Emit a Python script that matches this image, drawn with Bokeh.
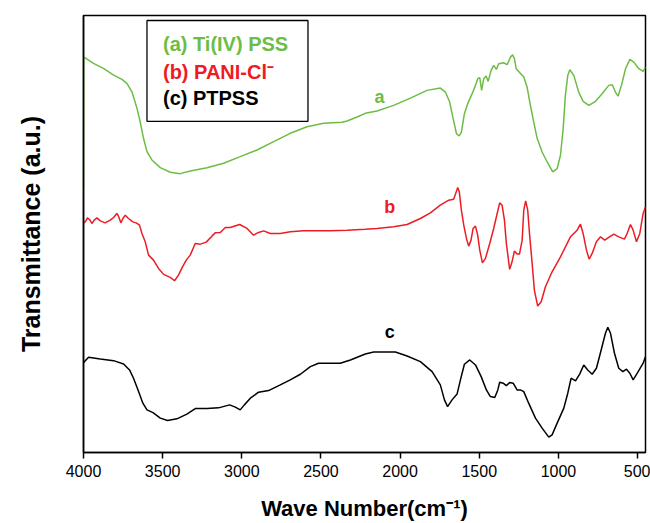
from bokeh.plotting import figure
from bokeh.models import Range1d, FixedTicker, BoxAnnotation, Label
from bokeh.embed import file_html
from bokeh.resources import INLINE

FONT = "Liberation Sans"

# ---- data (wavenumber cm^-1, transmittance a.u.) ----
wn_a = [4000, 3999, 3937, 3874, 3810, 3757, 3726, 3694, 3662, 3642, 3621, 3599, 3568, 3515, 3452, 3389, 3326,
        3220, 3115, 3010, 2904, 2799, 2694, 2588, 2483, 2367, 2335, 2272, 2220, 2146, 2041, 1935, 1830, 1746,
        1714, 1687, 1665, 1644, 1627, 1613, 1594, 1573, 1545, 1524, 1510, 1497, 1485, 1472, 1457, 1444, 1425,
        1409, 1392, 1377, 1346, 1324, 1303, 1289, 1278, 1267, 1244, 1219, 1198, 1177, 1156, 1134, 1103, 1071,
        1036, 1008, 987, 970, 956, 941, 928, 903, 872, 844, 808, 766, 724, 682, 660, 640, 623, 602, 576, 549,
        524, 492, 465, 450]
t_a = [265, 396.3, 389.7, 384.7, 378, 373.7, 369.7, 361.3, 344.7, 331.3, 314.7, 301.3, 293, 285.3, 280.7, 279.3,
       282, 285.3, 289.7, 296.3, 303, 311.3, 319.7, 326.3, 329.7, 330.7, 332, 336, 339.7, 342, 347.7, 355, 362.7,
       365, 361, 351, 334.4, 319.4, 317, 321, 339.4, 349.4, 359.4, 367.7, 374.4, 375.4, 362.7, 374.4, 377, 371.7,
       382.7, 387.7, 383.7, 389.4, 390.4, 388.4, 396, 398.4, 394.4, 384.4, 380.4, 376, 366, 347.7, 331, 314.4,
       301, 291, 281, 284.4, 297.7, 324.4, 357.7, 377.7, 383.4, 377.7, 361, 351.7, 347.7, 351.7, 359.4, 367.7,
       368.4, 361, 357, 367.7, 384.4, 393.7, 391, 384.4, 381.7, 386]

wn_b = [4000, 3989, 3975, 3962, 3947, 3932, 3915, 3894, 3863, 3831, 3810, 3789, 3779, 3764, 3751, 3736, 3716,
        3688, 3667, 3646, 3631, 3610, 3589, 3558, 3526, 3494, 3452, 3425, 3400, 3372, 3351, 3326, 3294, 3262,
        3225, 3189, 3168, 3136, 3104, 3073, 3014, 2967, 2926, 2894, 2862, 2820, 2757, 2694, 2610, 2546, 2441,
        2335, 2220, 2146, 2041, 1956, 1872, 1809, 1746, 1693, 1662, 1649, 1636, 1626, 1613, 1598, 1581, 1567,
        1552, 1539, 1524, 1510, 1497, 1480, 1461, 1434, 1409, 1387, 1371, 1356, 1341, 1329, 1308, 1293, 1278,
        1261, 1246, 1229, 1219, 1207, 1194, 1181, 1166, 1152, 1131, 1109, 1082, 1040, 987, 924, 882, 861, 844,
        823, 806, 787, 760, 734, 707, 682, 650, 619, 583, 566, 545, 528, 507, 486, 465, 450]
t_b = [229.7, 231, 235, 233.4, 229.4, 232.7, 235, 232, 230, 232.7, 235.4, 239.4, 236.7, 230, 234.4, 237.7, 234.4,
       231, 230, 227.7, 219.4, 211, 197.7, 192.7, 184.4, 178.4, 175.4, 172, 177.7, 186.7, 192.7, 197.7, 209.4,
       208.7, 210.7, 216.7, 220, 220.4, 225.4, 225.4, 228.4, 224.4, 217.7, 220.4, 222, 219.4, 219.4, 221, 222,
       222, 222, 222.7, 223.7, 224.4, 226, 228.4, 234.4, 240, 247.7, 252.7, 253.7, 259.4, 265.4, 261, 242.7,
       227.7, 214.4, 206.7, 212.7, 224.4, 226.7, 217.7, 202.7, 190, 194.4, 209.4, 224.4, 239.4, 250, 247.7,
       232.7, 209.4, 183.4, 191, 201.7, 198.7, 198.7, 212.7, 242.7, 252, 242.7, 216, 189.4, 162.7, 146.7, 151,
       166, 181, 196, 216, 222.7, 228.7, 219.4, 202.7, 193.7, 199.4, 211, 216, 212.7, 215.4, 218.7, 216, 213.7,
       219.4, 228.4, 222.7, 211, 219.4, 239.4, 246]

wn_c = [4000, 3968, 3894, 3810, 3747, 3709, 3684, 3652, 3625, 3599, 3561, 3515, 3469, 3410, 3347, 3294, 3220,
        3147, 3077, 3041, 3010, 2984, 2946, 2894, 2831, 2757, 2694, 2630, 2567, 2515, 2378, 2314, 2220, 2167,
        2030, 1956, 1872, 1798, 1746, 1720, 1700, 1672, 1640, 1619, 1594, 1560, 1524, 1488, 1455, 1430, 1402,
        1383, 1371, 1349, 1329, 1308, 1286, 1261, 1240, 1219, 1188, 1145, 1103, 1061, 1040, 1008, 966, 941, 920,
        892, 865, 840, 815, 787, 760, 730, 703, 688, 671, 646, 619, 593, 570, 549, 528, 502, 465, 450]
t_c = [90, 95.4, 93.7, 92, 88.7, 82.7, 74.4, 61, 49.4, 42.7, 40, 34.4, 32, 33.7, 38.4, 44, 44, 44.7, 47.7, 45.4,
       42.7, 47.7, 54.4, 60.4, 62, 67.7, 72.7, 78.4, 86, 89.4, 89.4, 92.7, 98.7, 100.7, 100.7, 96.7, 91, 81, 67.7,
       52.7, 46, 52.7, 58.7, 72.7, 88.4, 92.7, 87.7, 76, 62.7, 56, 55, 62.7, 70.4, 69.4, 67, 70, 69.4, 62.7, 62.7,
       61, 49.4, 34.4, 24.4, 15.4, 17.7, 29.4, 44.4, 59.4, 74.4, 71.7, 78.7, 87.7, 82.7, 78.4, 84.4, 102.7, 119.4,
       125.4, 119.4, 99.4, 84.4, 81, 83.4, 79.4, 72.7, 79.4, 89.4, 96]

x_ticks = [4000, 3500, 3000, 2500, 2000, 1500, 1000, 500]
series_names = ["(a) Ti(IV) PSS", "(b) PANI-Cl\u207b", "(c) PTPSS"]
curve_tags = ["a", "b", "c"]
colors = ["#6cbd45", "#ed1c24", "#000000"]

p = figure(width=650, height=523, output_backend="svg", toolbar_location=None,
           x_range=Range1d(4000, 450), y_range=Range1d(0, 437.7),
           min_border_left=83, min_border_right=5, min_border_top=15, min_border_bottom=70)
p.background_fill_color = "white"
p.border_fill_color = "white"
p.outline_line_color = "black"
p.outline_line_width = 1.5
p.xgrid.visible = False
p.ygrid.visible = False

p.line(wn_a, t_a, line_color=colors[0], line_width=1.5)
p.line(wn_b, t_b, line_color=colors[1], line_width=1.5)
p.line(wn_c, t_c, line_color=colors[2], line_width=1.5)

# x axis
xa = p.xaxis[0]
xa.ticker = FixedTicker(ticks=x_ticks)
xa.minor_tick_line_color = None
xa.major_tick_in = 0
xa.major_tick_out = 6
xa.major_tick_line_width = 1.5
xa.axis_line_width = 1.5
xa.axis_line_color = "black"
xa.major_label_text_font = FONT
xa.major_label_text_font_size = "16px"
xa.major_label_text_color = "black"
xa.major_label_standoff = 6
xa.axis_label = "Wave Number(cm\u207b\u00b9)"
xa.axis_label_text_font = FONT
xa.axis_label_text_font_style = "bold"
xa.axis_label_text_font_size = "22px"
xa.axis_label_text_color = "black"
xa.axis_label_standoff = 16

# y axis
ya = p.yaxis[0]
ya.ticker = FixedTicker(ticks=[])
ya.minor_tick_line_color = None
ya.major_tick_line_color = None
ya.axis_line_width = 1.5
ya.axis_line_color = "black"
ya.axis_label = "Transmittance (a.u.)"
ya.axis_label_text_font = FONT
ya.axis_label_text_font_style = "bold"
ya.axis_label_text_font_size = "25px"
ya.axis_label_text_color = "black"
ya.axis_label_standoff = 39

# curve tags
tag_pos = [(2131, 355.7), (2066, 246), (2066, 121)]
for tag, (tx, ty), c in zip(curve_tags, tag_pos, colors):
    p.add_layout(Label(x=tx, y=ty, text=tag, text_color=c, text_font=FONT, text_font_style="bold",
                       text_font_size="18px", text_align="center", text_baseline="middle"))

# legend box
p.add_layout(BoxAnnotation(left=3599, right=2582, top=432.7, bottom=331.7, fill_color="white", fill_alpha=1,
                           line_color="black", line_alpha=1, line_width=1.3))
leg_y = [409.4, 381, 355.4]
for name, c, ly in zip(series_names, colors, leg_y):
    p.add_layout(Label(x=3498, y=ly, text=name, text_color=c, text_font=FONT, text_font_style="bold",
                       text_font_size="20px", text_align="left", text_baseline="middle"))

open("out.html", "w").write(file_html(p, INLINE))
